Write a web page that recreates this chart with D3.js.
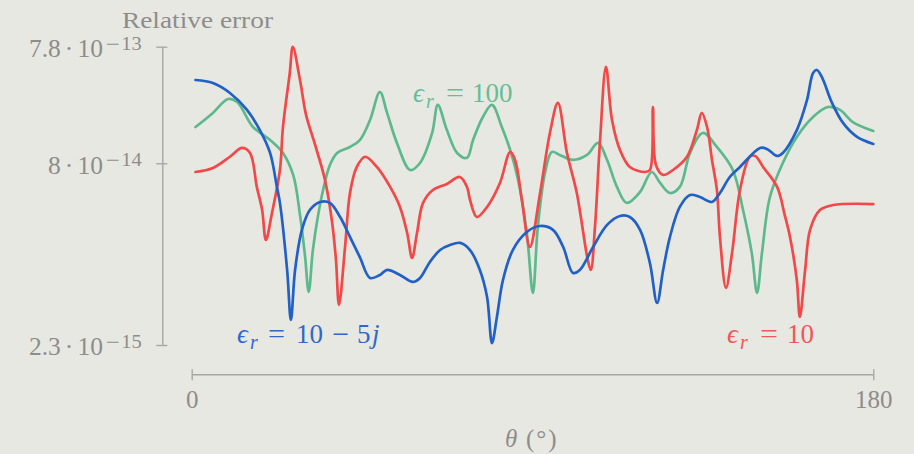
<!DOCTYPE html>
<html>
<head>
<meta charset="utf-8">
<script src="https://cdn.jsdelivr.net/npm/d3@7"></script>
<style>
  html, body { margin: 0; padding: 0; background: #e8e8e3; }
  svg { display: block; }
</style>
</head>
<body>
<svg id="chart" width="914" height="454"></svg>
<script>
// Incidence angle (degrees) and relative error for three permittivities.
const thetaLossy = [1.0, 5.6, 10.1, 14.6, 18.0, 20.7, 22.5, 23.3, 25.2, 26.2, 27.3, 29.1, 31.2, 33.9, 36.5, 39.2, 41.8, 44.4, 47.1, 49.7, 51.6, 55.0, 58.4, 60.3, 62.9, 65.6, 68.2, 70.9, 73.5, 76.1, 78.0, 79.3, 80.6, 82.2, 84.8, 88.5, 92.0, 95.4, 98.1, 100.7, 102.5, 106.0, 109.7, 113.1, 115.7, 118.4, 121.0, 122.9, 124.5, 126.3, 128.9, 131.6, 134.2, 137.4, 139.5, 142.1, 144.8, 150.1, 151.9, 154.6, 156.1, 159.8, 162.5, 164.1, 165.1, 166.4, 169.1, 172.0, 175.7, 180.0];
const errorLossy = [4.07e-13, 3.84e-13, 3.16e-13, 2.27e-13, 1.53e-13, 9.79e-14, 5.04e-14, 3.69e-14, 9.96e-15, 3.75e-15, 9.96e-15, 2.18e-14, 3.21e-14, 3.76e-14, 3.69e-14, 2.80e-14, 1.90e-14, 1.28e-14, 8.52e-15, 9.03e-15, 9.96e-15, 9.03e-15, 7.88e-15, 8.52e-15, 1.165e-14, 1.47e-14, 1.62e-14, 1.69e-14, 1.47e-14, 9.96e-15, 5.88e-15, 2.39e-15, 3.98e-15, 8.19e-15, 1.47e-14, 2.09e-14, 2.35e-14, 2.18e-14, 1.56e-14, 9.39e-15, 9.96e-15, 1.56e-14, 2.40e-14, 2.86e-14, 2.80e-14, 2.18e-14, 1.14e-14, 5.23e-15, 9.96e-15, 1.90e-14, 3.41e-14, 4.31e-14, 4.14e-14, 3.76e-14, 4.48e-14, 6.12e-14, 7.45e-14, 1.08e-13, 1.058e-13, 9.23e-14, 9.79e-14, 1.53e-13, 2.76e-13, 4.67e-13, 4.95e-13, 4.32e-13, 2.60e-13, 1.76e-13, 1.34e-13, 1.167e-13];

const thetaTen = [1.0, 5.6, 10.1, 13.3, 15.4, 17.2, 18.6, 19.6, 21.2, 23.3, 24.1, 25.9, 26.7, 28.6, 30.2, 32.6, 35.2, 37.0, 38.1, 38.9, 40.5, 41.8, 43.6, 45.8, 48.9, 52.4, 55.0, 56.9, 58.2, 59.5, 61.1, 63.7, 67.4, 70.8, 72.7, 73.5, 75.3, 78.0, 81.4, 84.1, 85.4, 87.2, 89.3, 92.0, 94.6, 96.7, 99.1, 101.7, 104.6, 105.4, 106.5, 107.8, 109.4, 111.0, 113.1, 115.7, 119.7, 121.0, 121.8, 122.6, 124.5, 127.1, 130.8, 133.4, 134.7, 136.1, 137.4, 138.7, 139.5, 141.1, 142.7, 144.8, 147.4, 148.8, 150.9, 154.6, 156.6, 158.0, 159.8, 160.6, 162.0, 163.3, 165.9, 169.4, 180.0];
const errorTen = [6.75e-14, 7.30e-14, 9.09e-14, 1.08e-13, 9.79e-14, 5.04e-14, 3.21e-14, 1.79e-14, 3.03e-14, 7.02e-14, 1.625e-13, 4.67e-13, 7.76e-13, 4.07e-13, 2.06e-13, 1.145e-13, 5.78e-14, 2.64e-14, 1.21e-14, 5.03e-15, 1.56e-14, 4.48e-14, 7.45e-14, 9.09e-14, 7.45e-14, 5.04e-14, 3.41e-14, 2.05e-14, 1.26e-14, 2.05e-14, 3.69e-14, 4.75e-14, 5.34e-14, 6.12e-14, 5.04e-14, 3.91e-14, 2.80e-14, 3.41e-14, 5.45e-14, 9.98e-14, 8.54e-14, 3.91e-14, 1.56e-14, 4.48e-14, 1.446e-13, 2.60e-13, 9.79e-14, 4.48e-14, 1.21e-14, 9.96e-15, 2.31e-14, 1.19e-13, 5.25e-13, 1.865e-13, 1.038e-13, 7.45e-14, 6.75e-14, 7.02e-14, 2.40e-13, 7.74e-14, 6.37e-14, 7.02e-14, 9.09e-14, 1.53e-13, 2.14e-13, 1.625e-13, 8.54e-14, 4.75e-14, 1.90e-14, 7.01e-15, 1.39e-14, 4.75e-14, 9.09e-14, 9.23e-14, 7.45e-14, 5.04e-14, 2.92e-14, 1.90e-14, 8.19e-15, 3.98e-15, 9.96e-15, 2.18e-14, 3.21e-14, 3.54e-14, 3.61e-14];

const thetaHundred = [1.0, 5.6, 9.6, 12.0, 16.2, 20.7, 24.1, 26.8, 28.6, 29.9, 30.9, 32.0, 33.4, 34.7, 36.5, 38.4, 41.8, 44.4, 47.1, 49.7, 51.6, 54.2, 57.7, 60.3, 63.5, 65.0, 67.4, 70.1, 72.7, 74.3, 76.9, 79.3, 81.9, 84.1, 86.2, 88.5, 90.1, 91.4, 93.3, 95.1, 97.2, 100.7, 104.4, 107.3, 109.7, 112.3, 114.9, 118.4, 121.5, 123.7, 126.3, 128.9, 131.6, 135.0, 138.7, 142.9, 145.6, 147.9, 149.3, 150.6, 152.7, 156.1, 159.8, 164.1, 168.0, 171.2, 174.6, 180.0];
const errorHundred = [1.625e-13, 2.14e-13, 2.81e-13, 2.65e-13, 1.625e-13, 1.26e-13, 9.79e-14, 6.37e-14, 2.92e-14, 1.335e-14, 6.48e-15, 1.47e-14, 2.92e-14, 4.75e-14, 7.74e-14, 9.79e-14, 1.10e-13, 1.26e-13, 1.865e-13, 3.22e-13, 2.14e-13, 1.19e-13, 7.02e-14, 8.05e-14, 1.446e-13, 2.50e-13, 1.53e-13, 9.79e-14, 8.91e-14, 1.26e-13, 1.977e-13, 2.50e-13, 1.625e-13, 1.038e-13, 5.78e-14, 2.05e-14, 6.36e-15, 2.31e-14, 6.62e-14, 9.98e-14, 9.41e-14, 8.54e-14, 9.41e-14, 1.19e-13, 8.54e-14, 5.04e-14, 3.69e-14, 4.57e-14, 6.75e-14, 5.45e-14, 4.48e-14, 5.04e-14, 9.79e-14, 1.446e-13, 1.10e-13, 7.02e-14, 3.21e-14, 1.39e-14, 6.36e-15, 1.39e-14, 4.14e-14, 8.05e-14, 1.34e-13, 1.977e-13, 2.40e-13, 2.27e-13, 1.79e-13, 1.504e-13];

const xTicks = [0, 180];
const yTicks = [2.3e-15, 8e-14, 7.8e-13];

const svg = d3.select("#chart");
const serif = "'Liberation Serif', 'DejaVu Serif', serif";
const grey = "#8d8d8b";
const axisGrey = "#a7a7a4";

svg.append("rect").attr("width", 914).attr("height", 454).attr("fill", "#e8e8e3");

const x = d3.scaleLinear().domain([0, 180]).range([191.7, 873.3]);
const y = d3.scaleLog().domain([2.3e-15, 7.8e-13]).range([345, 46.7]);

// Vertical axis with scientific-notation tick labels (mantissa · 10^exp)
const yAxis = svg.append("g")
  .attr("transform", "translate(162.3,0)")
  .call(d3.axisLeft(y).tickValues(yTicks).tickSize(6).tickSizeOuter(0).tickFormat(() => ""));
yAxis.select(".domain").attr("stroke", axisGrey).attr("stroke-width", 1.4);
yAxis.selectAll(".tick line").attr("x1", 5).attr("stroke", axisGrey).attr("stroke-width", 1.4);
yAxis.selectAll(".tick text").remove();
yAxis.selectAll(".tick").each(function (d) {
  const exp = Math.floor(Math.log10(d) + 1e-9);
  const mant = +(d / Math.pow(10, exp)).toPrecision(2);
  const g = d3.select(this);
  const part = (px, anchor, size, yv, str, len) => {
    const t = g.append("text")
      .attr("x", px).attr("y", yv)
      .attr("text-anchor", anchor)
      .attr("font-family", serif).attr("font-size", size)
      .attr("fill", grey)
      .text(str);
    if (len) t.attr("textLength", len).attr("lengthAdjust", "spacingAndGlyphs");
    return t;
  };
  part(-101.5, "end", 25.5, 9.8, String(mant));
  part(-93.3, "middle", 25.5, 9.8, "·");
  part(-84.8, "start", 25.5, 9.8, "10");
  part(-56.5, "start", 18, 2.3, "−", 14);
  part(-41, "start", 18, 2.3, String(Math.abs(exp)), 20.5);
});

// Horizontal axis
const xAxis = svg.append("g")
  .attr("transform", "translate(0,374.3)")
  .call(d3.axisBottom(x).tickValues(xTicks).tickSize(6).tickSizeOuter(0).tickFormat(d3.format("d")));
xAxis.select(".domain").attr("stroke", axisGrey).attr("stroke-width", 1.4);
xAxis.selectAll(".tick line").attr("y1", -5).attr("stroke", axisGrey).attr("stroke-width", 1.4);
xAxis.selectAll(".tick text")
  .attr("y", 33.4).attr("dy", 0)
  .attr("font-family", serif).attr("font-size", 25)
  .attr("fill", grey);

// Axis titles
svg.append("text")
  .attr("x", 122).attr("y", 27.5)
  .attr("font-family", serif).attr("font-size", 23.5)
  .attr("textLength", 151).attr("lengthAdjust", "spacingAndGlyphs")
  .attr("fill", grey)
  .text("Relative error");

svg.append("text")
  .attr("x", 505).attr("y", 447)
  .attr("font-family", serif).attr("font-size", 25).attr("font-style", "italic")
  .attr("fill", grey)
  .text("θ");
svg.append("text")
  .attr("x", 526).attr("y", 447)
  .attr("font-family", serif).attr("font-size", 25)
  .attr("letter-spacing", 2)
  .attr("fill", grey)
  .text("(°)");

// Curves
const line = d3.line()
  .x(d => x(d[0]))
  .y(d => y(d[1]))
  .curve(d3.curveCatmullRom.alpha(0.5));

const series = [
  { theta: thetaHundred, err: errorHundred, color: "#5db98c" },
  { theta: thetaTen, err: errorTen, color: "#f24848" },
  { theta: thetaLossy, err: errorLossy, color: "#2160c6" }
];

series.forEach(s => {
  svg.append("path")
    .datum(d3.zip(s.theta, s.err))
    .attr("fill", "none")
    .attr("stroke", s.color)
    .attr("stroke-width", 2.7)
    .attr("stroke-linejoin", "round")
    .attr("stroke-linecap", "round")
    .attr("d", line);
});

// Series labels, laid out piece by piece with math spacing
function seriesLabel(px, py, color, pieces) {
  const g = svg.append("g").attr("transform", `translate(${px},${py})`)
    .attr("font-family", serif).attr("fill", color);
  pieces.forEach(p => {
    const t = g.append("text")
      .attr("x", p.dx).attr("y", p.sub ? 6 : 0)
      .attr("font-size", p.sub ? 20 : 27)
      .attr("font-style", p.it ? "italic" : "normal")
      .text(p.t);
    if (p.len) t.attr("textLength", p.len).attr("lengthAdjust", "spacingAndGlyphs");
  });
}
const epsR = [
  { t: "ϵ", dx: 0, it: true },
  { t: "r", dx: 13, it: true, sub: true }
];
seriesLabel(413, 101.7, "#66be94", epsR.concat([
  { t: "=", dx: 33, len: 18 },
  { t: "100", dx: 59 }
]));
seriesLabel(237, 343.3, "#2f68cc", epsR.concat([
  { t: "=", dx: 31, len: 17 },
  { t: "10", dx: 59 },
  { t: "−", dx: 95, len: 17 },
  { t: "5", dx: 120 },
  { t: "j", dx: 135, it: true }
]));
seriesLabel(727, 343.3, "#f25656", epsR.concat([
  { t: "=", dx: 33, len: 18 },
  { t: "10", dx: 60 }
]));
</script>
</body>
</html>
